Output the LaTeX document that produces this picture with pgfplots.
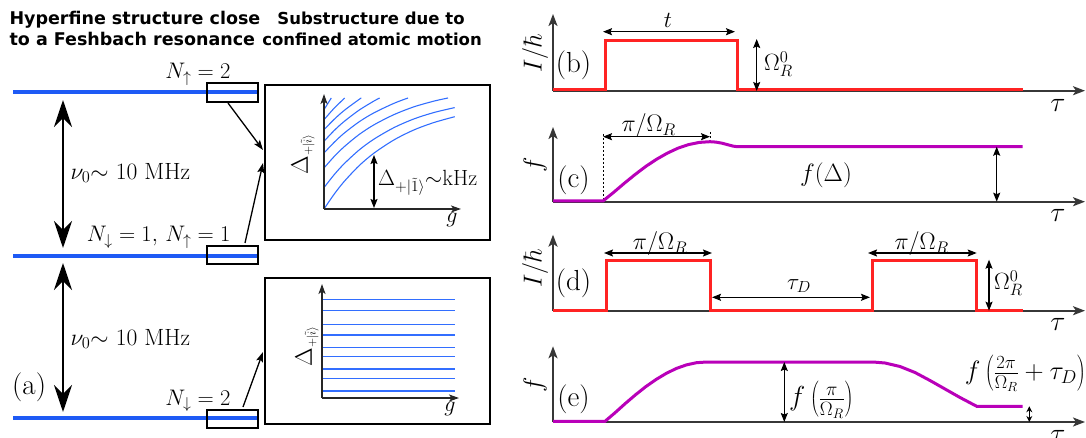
\RequirePackage{fix-cm}
\documentclass[border=0pt]{standalone}
\usepackage{fontspec}
\newfontfamily\titlefont{DejaVu Sans}
\usepackage{pgfplots}
\pgfplotsset{compat=1.18}
\usetikzlibrary{arrows.meta}
\newcommand\fs[1]{\fontsize{#1}{#1}\selectfont}
\definecolor{lvlblue}{RGB}{30,90,245}
\definecolor{crvblue}{RGB}{50,110,255}
\definecolor{pred}{RGB}{255,35,35}
\definecolor{pmag}{RGB}{185,0,185}
\definecolor{axgray}{RGB}{55,55,55}
\tikzset{
  bigarr/.style={line width=2.6pt, {Stealth[length=27pt,width=18pt,inset=9pt]}-{Stealth[length=27pt,width=18pt,inset=9pt]}},
  ann/.style={line width=1.2pt, {Stealth[length=9pt,width=7pt,inset=1.5pt]}-{Stealth[length=9pt,width=7pt,inset=1.5pt]}},
  conn/.style={line width=1.3pt, -{Stealth[length=10pt,width=7pt,inset=2pt]}},
  pax/.style={axgray, line width=2pt, -{Stealth[length=12pt,width=9pt,inset=3pt]}},
  iax/.style={black!85, line width=1.8pt, -{Stealth[length=10pt,width=7pt,inset=2.5pt]}},
}
\begin{document}
\begin{tikzpicture}[x=1pt,y=1pt]
\begin{axis}[at={(0,0)}, anchor=south west, scale only axis,
  width=1086pt, height=438pt, xmin=0, xmax=1086, ymin=0, ymax=438,
  y dir=reverse, hide axis, clip=false, no markers]

% ---------------- titles
\node[anchor=base west, font=\titlefont\bfseries\fs{17.5}] at (6,25) {Hyperfine structure close};
\node[anchor=base west, font=\titlefont\bfseries\fs{17.5}] at (6,46) {to a Feshbach resonance};
\node[anchor=base, font=\titlefont\bfseries\fs{16.5}] at (371,25) {Substructure due to};
\node[anchor=base, font=\titlefont\bfseries\fs{16.5}] at (372,46) {confined atomic motion};

% ---------------- (a) hyperfine levels
\addplot[lvlblue, line width=4pt] coordinates {(13,92) (258,92)};
\addplot[lvlblue, line width=4pt] coordinates {(13,256) (258,256)};
\addplot[lvlblue, line width=4pt] coordinates {(13,418) (258,418)};
\draw[line width=1.5pt] (207,83) rectangle (258,102);
\draw[line width=1.5pt] (207,246) rectangle (258,264);
\draw[line width=1.5pt] (207,410) rectangle (258,428);
\node[anchor=base east, font=\fs{22.5}] at (234,79) {$N_\uparrow = 2$};
\node[anchor=base east, font=\fs{22.5}] at (234,242) {$N_\downarrow = 1,\, N_\uparrow = 1$};
\node[anchor=base east, font=\fs{22.5}] at (234,405) {$N_\downarrow = 2$};
\draw[bigarr] (63,100) -- (63,248);
\draw[bigarr] (63,263) -- (63,412);
\node[anchor=west, font=\fs{23.5}] at (67,173) {$\nu_0{\sim}\ 10\ \mathrm{MHz}$};
\node[anchor=west, font=\fs{23.5}] at (67,339) {$\nu_0{\sim}\ 10\ \mathrm{MHz}$};
\node[anchor=west, font=\fs{29}, inner sep=0pt] at (12,387) {(a)};
\draw[conn] (228,103) -- (263,150);
\draw[conn] (245,243) -- (263,163);
\draw[conn] (243,407) -- (263,352);

% ---------------- upper inset
\draw[line width=2pt] (265,85) rectangle (490,240);
\addplot[crvblue, line width=1.1pt, smooth] coordinates {(324,209) (334,194.4) (344,181.7) (359,165.8) (374,153.1) (394,139.9) (414,129.9) (434,122.5) (454.7,116.7)};
\addplot[crvblue, line width=1.1pt, smooth] coordinates {(324,187.6) (334,174.9) (344,163.9) (359,150.1) (374,139.1) (394,127.6) (414,118.9) (434,112.5) (454.7,107.6)};
\addplot[crvblue, line width=1.1pt, smooth] coordinates {(324,168) (334,156.7) (344,146.9) (359,134.6) (374,124.8) (394,114.6) (414,106.8) (434,101.1) (448,98)};
\addplot[crvblue, line width=1.1pt, smooth] coordinates {(324,153) (334,142.5) (344,133.3) (359,121.9) (374,112.8) (394,103.3) (408,98)};
\addplot[crvblue, line width=1.1pt, smooth] coordinates {(324,141.3) (334,130.7) (344,121.6) (359,110.2) (374,101) (379.7,98)};
\addplot[crvblue, line width=1.1pt, smooth] coordinates {(324,129.7) (334,119.5) (344,110.6) (359,99.5) (361.3,98)};
\addplot[crvblue, line width=1.1pt, smooth] coordinates {(324,119.7) (334,108.4) (344.7,98)};
\addplot[crvblue, line width=1.1pt, smooth] coordinates {(324,109.7) (327.7,103.7) (331.3,98)};
\draw[iax] (324,209) -- (324,94);
\draw[iax] (324,209) -- (461,209);
\node[font=\fs{22}] at (452,220) {$g$};
\node[rotate=90, font=\fs{24}] at (303,154) {$\Delta_{\scriptscriptstyle +|\tilde{i}\rangle}$};
\draw[ann] (374,155) -- (374,208);
\node[anchor=west, font=\fs{22}, inner sep=1pt] at (377,183) {$\Delta_{+|\tilde{1}\rangle}{\sim}\mathrm{kHz}$};

% ---------------- lower inset
\draw[line width=2pt] (265,278) rectangle (490,424);
\addplot[crvblue, line width=1.3pt] coordinates {(322,299.3) (455,299.3)};
\addplot[crvblue, line width=1.3pt] coordinates {(322,310.3) (455,310.3)};
\addplot[crvblue, line width=1.3pt] coordinates {(322,324.7) (455,324.7)};
\addplot[crvblue, line width=1.3pt] coordinates {(322,335) (455,335)};
\addplot[crvblue, line width=1.3pt] coordinates {(322,347.7) (455,347.7)};
\addplot[crvblue, line width=1.3pt] coordinates {(322,356.7) (455,356.7)};
\addplot[crvblue, line width=1.3pt] coordinates {(322,369) (455,369)};
\addplot[crvblue, line width=1.3pt] coordinates {(322,378.3) (455,378.3)};
\addplot[crvblue, line width=1.3pt] coordinates {(322,391) (455,391)};
\draw[iax] (322,398) -- (322,284);
\draw[iax] (322,398) -- (459,398);
\node[font=\fs{22}] at (450,409) {$g$};
\node[rotate=90, font=\fs{24}] at (307,346) {$\Delta_{\scriptscriptstyle +|\tilde{i}\rangle}$};

% ---------------- (b)
\draw[pax] (553,90.7) -- (553,14);
\draw[pax] (553,90.7) -- (1085,90.7);
\addplot[pred, line width=3pt] coordinates {(553,90) (605,90) (605,41) (737.3,41) (737.3,90) (1022.7,90)};
\draw[ann] (603,31.7) -- (735,31.7);
\node[font=\fs{23}] at (668,20) {$t$};
\draw[ann] (756.7,39) -- (756.7,91);
\node[anchor=west, font=\fs{23.5}, inner sep=1pt] at (763,64) {$\Omega_R^0$};
\node[font=\fs{29}, inner sep=0pt] at (573.5,65) {(b)};
\node[rotate=90, font=\fs{26}] at (535,53) {$I/\hbar$};
\node[font=\fs{28}] at (1058,105) {$\tau$};

% ---------------- (c)
\draw[pax] (553,201.7) -- (553,127);
\draw[pax] (553,201.7) -- (1085,201.7);
\draw[line width=0.8pt, dash pattern=on 2.5pt off 1.5pt] (603,134) -- (603,201);
\draw[line width=0.8pt, dash pattern=on 2.5pt off 1.5pt] (710,132) -- (710,141);
\addplot[pmag, line width=3pt] coordinates {(553,201) (603,201) (613.7,192.3) (624.4,183.2) (635.1,174.5) (645.8,166.4) (656.5,159.3) (667.2,153.2) (677.9,148.2) (688.6,144.6) (699.3,142.4) (710,141.7) (716,142.1) (722,143.2) (728,144.8) (733,146.1) (737,146.7) (1022.7,146.7)};
\draw[ann] (603,136.7) -- (710,136.7);
\node[font=\fs{24}] at (648.7,126) {$\pi/\Omega_R$};
\draw[ann] (996.7,146.7) -- (996.7,201.7);
\node[font=\fs{25}] at (826,175) {$f(\Delta)$};
\node[font=\fs{29}, inner sep=0pt] at (573.5,180) {(c)};
\node[rotate=90, font=\fs{26}] at (535,165) {$f$};
\node[font=\fs{28}] at (1058,215.7) {$\tau$};

% ---------------- (d)
\draw[pax] (553,310.7) -- (553,234.7);
\draw[pax] (553,310.7) -- (1085,310.7);
\addplot[pred, line width=3pt] coordinates {(553,310) (606,310) (606,260.7) (710,260.7) (710,310) (872.3,310) (872.3,260.7) (976,260.7) (976,310) (1022.7,310)};
\draw[ann] (604,253) -- (712,253);
\node[font=\fs{24}] at (660,243.5) {$\pi/\Omega_R$};
\draw[ann] (868,253) -- (976.7,253);
\node[font=\fs{24}] at (921.7,243.5) {$\pi/\Omega_R$};
\draw[ann] (712,297.3) -- (870,297.3);
\node[font=\fs{23}] at (799,286) {$\tau_D$};
\draw[ann] (989,259.7) -- (989,310.7);
\node[anchor=west, font=\fs{23.5}, inner sep=1pt] at (993,283) {$\Omega_R^0$};
\node[font=\fs{29}, inner sep=0pt] at (573.5,283) {(d)};
\node[rotate=90, font=\fs{26}] at (535,268) {$I/\hbar$};
\node[font=\fs{28}] at (1058,324.7) {$\tau$};

% ---------------- (e)
\draw[pax] (553,422) -- (553,346.3);
\draw[pax] (553,422) -- (1085,422);
\addplot[pmag, line width=3pt] coordinates {(553,421.3) (605,421.3) (615.2,412.6) (625.3,403.5) (635.5,394.8) (645.7,386.7) (655.9,379.6) (666,373.5) (676.2,368.5) (686.4,364.9) (696.5,362.7) (706.7,362) (873,362) (885,363) (900,366.5) (915,372.5) (930,380.5) (945,389) (960,397.5) (976.7,406.3) (1022.7,406.3)};
\draw[ann] (784.3,362) -- (784.3,422);
\node[anchor=west, font=\fs{27.5}, inner sep=1pt] at (788,399.7) {$f\left(\frac{\pi}{\Omega_R}\right)$};
\draw[line width=1.2pt, {Stealth[length=6pt,width=6pt]}-{Stealth[length=6pt,width=6pt]}] (1029.3,406.3) -- (1029.3,422);
\node[anchor=east, font=\fs{26.5}, inner sep=1pt] at (1087,373) {$f\left(\frac{2\pi}{\Omega_R}+\tau_D\right)$};
\node[font=\fs{29}, inner sep=0pt] at (573.5,399.7) {(e)};
\node[rotate=90, font=\fs{26}] at (535,384.7) {$f$};
\node[font=\fs{28}] at (1058,436) {$\tau$};

\end{axis}
\pgfresetboundingbox
\useasboundingbox (0,0) rectangle (1086,438);
\end{tikzpicture}
\end{document}
